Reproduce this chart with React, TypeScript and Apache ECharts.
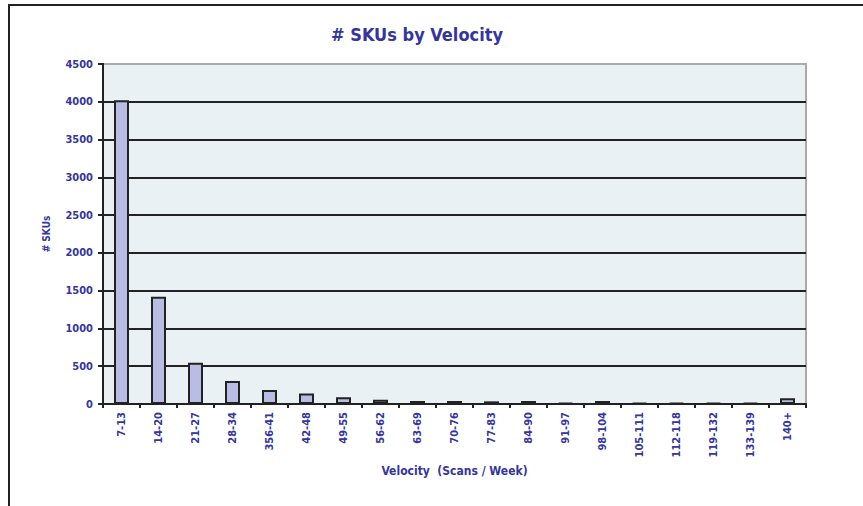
import React, { useEffect, useRef } from "react";
import * as echarts from "echarts";

const categories = ["7-13","14-20","21-27","28-34","356-41","42-48","49-55","56-62","63-69","70-76","77-83","84-90","91-97","98-104","105-111","112-118","119-132","133-139","140+"];
const skuCounts = [4020,1420,545,305,185,140,90,55,40,40,35,40,15,40,15,15,15,15,75];
const yTicks = { min: 0, max: 4500, interval: 500 };

const NAVY = "#35359a";
const FONT = "'DejaVu Sans Condensed', 'Liberation Sans Narrow', 'Open Sans', sans-serif";

export default function App() {
  const ref = useRef<HTMLDivElement>(null);
  useEffect(() => {
    if (!ref.current) return;
    const chart = echarts.init(ref.current, null, { renderer: "svg" });
    chart.setOption({
      animation: false,
      backgroundColor: "#ffffff",
      title: {
        text: "# SKUs by Velocity",
        left: 412,
        textAlign: "center",
        top: 20,
        textStyle: { color: NAVY, fontSize: 18, fontWeight: "bold", fontFamily: FONT },
      },
      graphic: [
        {
          type: "rect",
          shape: { x: 9, y: 5, width: 870, height: 520 },
          style: { fill: "none", stroke: "#222", lineWidth: 2 },
          silent: true,
          z: 10,
        },
        {
          type: "line",
          shape: { x1: 104, y1: 64, x2: 806, y2: 64 },
          style: { stroke: "#aaaaaa", lineWidth: 2 },
          silent: true,
          z: 10,
        },
      ],
      grid: {
        left: 103,
        top: 64,
        right: 57,
        bottom: 102,
        show: true,
        backgroundColor: "#e9f1f5",
        borderColor: "#aaaaaa",
        borderWidth: 2,
      },
      xAxis: {
        type: "category",
        data: categories,
        name: "Velocity  (Scans / Week)",
        nameLocation: "middle",
        nameGap: 58,
        nameTextStyle: { color: NAVY, fontSize: 12, fontWeight: "bold", fontFamily: FONT },
        axisLine: { lineStyle: { color: "#222", width: 2 } },
        axisTick: { show: true, alignWithLabel: false, length: 4, lineStyle: { color: "#222", width: 2 } },
        axisLabel: {
          rotate: 90,
          interval: 0,
          color: NAVY,
          fontSize: 11,
          fontWeight: "bold",
          fontFamily: FONT,
          margin: 8,
        },
      },
      yAxis: {
        type: "value",
        min: yTicks.min,
        max: yTicks.max,
        interval: yTicks.interval,
        name: "# SKUs",
        nameLocation: "middle",
        nameGap: 52,
        nameTextStyle: { color: NAVY, fontSize: 10, fontWeight: "bold", fontFamily: FONT },
        axisLine: { show: true, lineStyle: { color: "#222", width: 2 } },
        axisTick: { show: true, length: 5, lineStyle: { color: "#222", width: 2 } },
        axisLabel: {
          color: NAVY,
          fontSize: 11,
          fontWeight: "bold",
          fontFamily: FONT,
          margin: 10,
          formatter: (v: number) => String(v),
        },
        splitLine: { show: true, lineStyle: { color: "#222", width: 2 } },
      },
      series: [
        {
          type: "bar",
          data: skuCounts,
          barWidth: 15,
          itemStyle: { color: "#b9bde3", borderColor: "#222", borderWidth: 2 },
        },
      ],
    });
    return () => chart.dispose();
  }, []);
  return (
    <div
      ref={ref}
      style={{ position: "absolute", left: 0, top: 0, width: 863, height: 506 }}
    />
  );
}
